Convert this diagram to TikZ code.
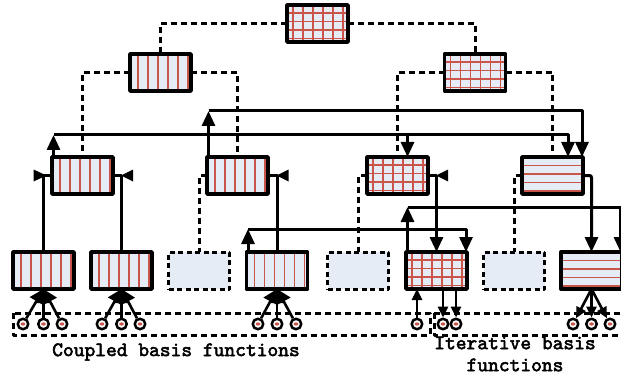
\documentclass[tikz,border=0pt]{standalone}
\usepackage{fontspec}
\newfontfamily\capfont{lmmono10-regular}[Extension=.otf, FakeBold=2.5]
\usetikzlibrary{arrows.meta,calc}
\definecolor{boxfill}{RGB}{230,236,246}
\definecolor{stripe}{RGB}{202,85,75}
\begin{document}
\begin{tikzpicture}[x=1pt,y=-1pt,line join=round,
  box/.style={draw, line width=3.4pt, fill=boxfill, minimum width=61pt, minimum height=37pt, inner sep=0pt, outer sep=0pt},
  ghost/.style={draw, line width=3pt, dash pattern=on 5pt off 3.5pt, fill=boxfill, minimum width=61pt, minimum height=37pt, inner sep=0pt, outer sep=0pt},
  stl/.style={draw=stripe, line width=1.3pt},
  vstripe/.style={box, path picture={\foreach \i in {0,...,5}{\path[stl] ([xshift=8pt+\i*10pt]path picture bounding box.north west) -- ([xshift=8pt+\i*10pt]path picture bounding box.south west);}}},
  hstripe/.style={box, path picture={\foreach \i in {0,...,3}{\path[stl] ([yshift=-8.5pt-\i*8.5pt]path picture bounding box.north west) -- ([yshift=-8.5pt-\i*8.5pt]path picture bounding box.north east);}}},
  gridbox/.style={box, path picture={\foreach \i in {0,...,5}{\path[stl] ([xshift=6pt+\i*10pt]path picture bounding box.north west) -- ([xshift=6pt+\i*10pt]path picture bounding box.south west);}
     \foreach \i in {0,...,3}{\path[stl] ([yshift=-8pt-\i*8.5pt]path picture bounding box.north west) -- ([yshift=-8pt-\i*8.5pt]path picture bounding box.north east);}}},
  dline/.style={line width=3pt, dash pattern=on 6pt off 4pt},
  conn/.style={line width=3pt},
  thin/.style={line width=2.6pt},
  arr/.style={-{Triangle[length=15pt,width=13pt]}},
  sarr/.style={-{Triangle[length=14pt,width=15pt]}},
  darr/.style={-{Triangle[length=11pt,width=10pt]}},
  port/.style={circle, draw, line width=2.5pt, minimum size=10.5pt, inner sep=0pt, fill=white, path picture={\fill[stripe] (path picture bounding box.center) ellipse [x radius=2.4pt, y radius=1.6pt];}},
  lab/.style={font=\capfont\fontsize{20.5}{22}\selectfont, inner sep=0pt, align=center}
]
\useasboundingbox (0,0) rectangle (621,377);

% boxes
\node[gridbox] (root) at (317.5,23.5) {};
\node[vstripe] (L1a) at (160.5,72.5) {};
\node[gridbox] (L1b) at (475,72.5) {};
\node[vstripe] (A) at (82.5,175.5) {};
\node[vstripe] (B) at (237.5,175.5) {};
\node[gridbox] (C) at (397.5,175.5) {};
\node[hstripe] (D) at (552.5,175.5) {};
\node[vstripe] (E) at (43.5,270.5) {};
\node[vstripe] (F) at (121.5,270.5) {};
\node[ghost] (G) at (199,270.5) {};
\node[vstripe] (H) at (277,270.5) {};
\node[ghost] (I) at (358,270.5) {};
\node[gridbox] (J) at (436.5,270.5) {};
\node[ghost] (K) at (514,270.5) {};
\node[hstripe] (L) at (591.5,270.5) {};

% dashed tree
\draw[dline] (root.west) -| (L1a.north);
\draw[dline] (root.east) -| (L1b.north);
\draw[dline] (L1a.west) -| (A.north);
\draw[dline] (L1a.east) -| (B.north);
\draw[dline] (L1b.west) -| (C.north);
\draw[dline] (L1b.east) -| (D.north);
\draw[dline] (B.west) -| (G.north);
\draw[dline] (C.west) -| (I.north);
\draw[dline] (D.west) -| (K.north);

% level 2 to level 3
\draw[conn] (A.west) -| (E.north);
\draw[conn] (A.east) -| (F.north);
\draw[conn] (B.east) -| (H.north);
\draw[conn, arr] (C.east) -| (J.north);
\draw[conn, arr, rounded corners=2pt] (D.east) -| (L.north);
\coordinate (kA) at (E.north |- A.west);
\coordinate (kF) at (F.north |- A.east);
\coordinate (kH) at (H.north |- B.east);
\coordinate (kJ) at (J.north |- C.east);
\fill ([xshift=3pt]kA) -- ++(-13,-6) -- ++(0,12) -- cycle;
\fill ([xshift=-0.5pt]kF) -- ++(12,-6) -- ++(0,12) -- cycle;
\fill ([xshift=-0.5pt]kH) -- ++(12,-6) -- ++(0,12) -- cycle;
\fill ([xshift=-0.5pt]kJ) -- ++(12,-6) -- ++(0,12) -- cycle;

% long connectors
\coordinate (a1) at ([xshift=1.5pt]A.north west);
\coordinate (t1) at (a1 |- 0,135);
\coordinate (d1) at ([xshift=-15pt]D.north east);
\coordinate (c1) at ([xshift=10pt]C.north);
\draw[conn, arr] (a1) -- (t1);
\draw[conn, arr] (t1) -| (d1);
\draw[conn, arr] (c1 |- t1) -- (c1);

\coordinate (b1) at ([xshift=1.5pt]B.north west);
\coordinate (t2) at (b1 |- 0,111);
\coordinate (d2) at ([xshift=-1pt]D.north east);
\draw[conn, arr] (b1) -- (t2);
\draw[conn, arr] (t2) -| (d2);

\coordinate (j1) at ([xshift=1.5pt]J.north west);
\coordinate (t3) at (j1 |- 0,207);
\coordinate (l1) at ([xshift=-1.5pt]L.north east);
\draw[conn, arr] (j1) -- (t3);
\draw[conn, arr] (t3) -| (l1);

\coordinate (h1) at ([xshift=1.5pt]H.north west);
\coordinate (t4) at (h1 |- 0,229);
\coordinate (jj) at ([xshift=-1pt]J.north east);
\draw[conn, arr] (h1) -- (t4);
\draw[conn, arr] (t4) -| (jj);

% groups
\draw[dline] (13,313) rectangle (430,335);
\draw[dline] (434,313) rectangle (640,335);

% ports
\node[port] (e1) at (23,324) {};
\node[port] (e2) at (43.5,324) {};
\node[port] (e3) at (62,324) {};
\node[port] (f1) at (102,324) {};
\node[port] (f2) at (121.5,324) {};
\node[port] (f3) at (140,324) {};
\node[port] (h4) at (258,324) {};
\node[port] (h5) at (277,324) {};
\node[port] (h6) at (296,324) {};
\node[port] (j4) at (417,324) {};
\node[port] (j5) at (443,324) {};
\node[port] (j6) at (456,324) {};
\node[port] (l4) at (573,324) {};
\node[port] (l5) at (591.5,324) {};
\node[port] (l6) at (610,324) {};

\foreach \p in {e1,e2,e3} \draw[thin, sarr] (\p) -- (E.south);
\foreach \p in {f1,f2,f3} \draw[thin, sarr] (\p) -- (F.south);
\foreach \p in {h4,h5,h6} \draw[thin, sarr] (\p) -- (H.south);
\draw[thin, darr] (j4) -- (j4 |- J.south);
\draw[thin, darr] (j5 |- J.south) -- (j5);
\draw[thin, darr] (j6 |- J.south) -- (j6);
\foreach \p in {l4,l5,l6} \draw[thin, darr] (L.south) -- (\p);

% labels
\node[lab] (cap1) at (176,352) {Coupled basis functions};
\node[lab] (cap2) at (515,354) {Iterative basis\\functions};
\end{tikzpicture}
\end{document}
